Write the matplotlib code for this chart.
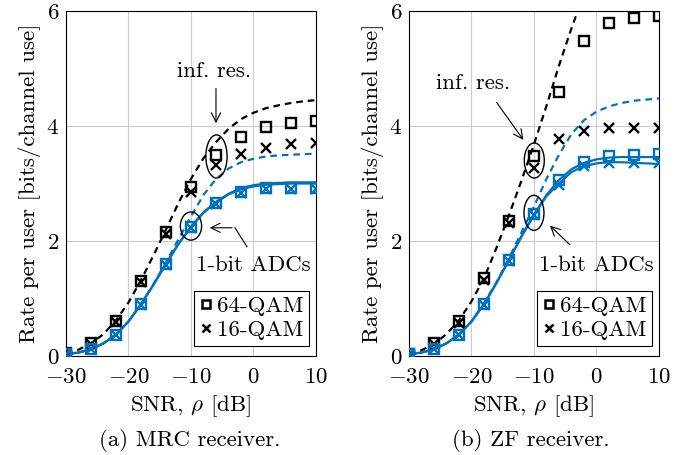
import numpy as np
import matplotlib
matplotlib.use('Agg')
import matplotlib.pyplot as plt
from matplotlib.patches import Ellipse
from matplotlib.lines import Line2D

plt.rcParams['font.family'] = 'serif'
plt.rcParams['font.serif'] = ['cmr10']
plt.rcParams['mathtext.fontset'] = 'cm'
plt.rcParams['axes.formatter.use_mathtext'] = True
plt.rcParams['font.size'] = 16.5

BLUE = '#0072BD'

# SNR grid for curves (2 dB) and markers (4 dB)
snr_line = [-30, -28, -26, -24, -22, -20, -18, -16, -14, -12, -10,
            -8, -6, -4, -2, 0, 2, 4, 6, 8, 10]
snr_mark = [-30, -26, -22, -18, -14, -10, -6, -2, 2, 6, 10]

# (a) MRC
mrc_inf_gauss = [0.05, 0.11, 0.22, 0.38, 0.62, 0.93, 1.32, 1.75, 2.2, 2.66, 3.08,
                 3.44, 3.72, 3.95, 4.12, 4.23, 4.31, 4.36, 4.4, 4.43, 4.45]
mrc_1bit_gauss = [0.03, 0.06, 0.12, 0.22, 0.38, 0.6, 0.9, 1.25, 1.63, 2.03, 2.43,
                  2.8, 3.08, 3.26, 3.37, 3.43, 3.47, 3.49, 3.5, 3.51, 3.52]
mrc_1bit_64 = [0.03, 0.06, 0.12, 0.22, 0.37, 0.6, 0.9, 1.24, 1.6, 1.95, 2.25,
               2.5, 2.68, 2.82, 2.92, 2.97, 3.0, 3.01, 3.02, 3.02, 3.02]
mrc_1bit_16 = [0.03, 0.06, 0.12, 0.22, 0.37, 0.6, 0.9, 1.24, 1.6, 1.95, 2.24,
               2.49, 2.67, 2.81, 2.9, 2.95, 2.98, 2.99, 3.0, 3.0, 3.0]
mrc_inf_64_sim = [0.06, 0.22, 0.61, 1.30, 2.15, 2.94, 3.50, 3.81, 3.98, 4.05, 4.09]
mrc_inf_16_sim = [0.05, 0.21, 0.59, 1.28, 2.13, 2.86, 3.32, 3.52, 3.62, 3.68, 3.71]
mrc_1bit_64_sim = [0.03, 0.12, 0.37, 0.9, 1.6, 2.25, 2.66, 2.86, 2.92, 2.92, 2.92]
mrc_1bit_16_sim = [0.03, 0.12, 0.36, 0.89, 1.59, 2.23, 2.64, 2.84, 2.9, 2.9, 2.9]

# (b) ZF
zf_inf_gauss = [0.05, 0.1, 0.21, 0.38, 0.62, 0.95, 1.35, 1.88, 2.45, 3.05, 3.68,
                4.35, 5.05, 5.7, 6.3, 6.9, 7.5, 8.1, 8.7, 9.3, 9.9]
zf_1bit_gauss = [0.03, 0.06, 0.12, 0.22, 0.38, 0.6, 0.92, 1.28, 1.7, 2.15, 2.6,
                 3.08, 3.5, 3.86, 4.1, 4.25, 4.34, 4.4, 4.44, 4.46, 4.48]
zf_1bit_64 = [0.03, 0.06, 0.12, 0.22, 0.37, 0.6, 0.9, 1.27, 1.67, 2.08, 2.46,
              2.8, 3.06, 3.25, 3.36, 3.42, 3.45, 3.46, 3.46, 3.46, 3.46]
zf_1bit_16 = [0.03, 0.06, 0.12, 0.22, 0.37, 0.6, 0.9, 1.27, 1.67, 2.08, 2.45,
              2.78, 3.0, 3.2, 3.3, 3.35, 3.37, 3.37, 3.36, 3.35, 3.34]
zf_inf_64_sim = [0.04, 0.22, 0.6, 1.35, 2.35, 3.47, 4.6, 5.48, 5.8, 5.87, 5.92]
zf_inf_16_sim = [0.04, 0.21, 0.58, 1.32, 2.32, 3.27, 3.78, 3.92, 3.96, 3.96, 3.96]
zf_1bit_64_sim = [0.03, 0.12, 0.37, 0.9, 1.67, 2.47, 3.06, 3.38, 3.48, 3.5, 3.51]
zf_1bit_16_sim = [0.03, 0.12, 0.36, 0.89, 1.66, 2.45, 2.97, 3.3, 3.35, 3.35, 3.35]

fig = plt.figure(figsize=(6.96, 4.55), dpi=100)
ax1 = fig.add_axes([0.0948, 0.2176, 0.3592, 0.7582])
ax2 = fig.add_axes([0.5876, 0.2176, 0.3592, 0.7582])


def draw(ax, inf_g, bit_g, bit64, bit16, i64, i16, b64, b16):
    ax.plot(snr_line, inf_g, color='k', ls=(0, (3, 2.2)), lw=1.6, zorder=3)
    ax.plot(snr_line, bit_g, color=BLUE, ls=(0, (3, 2.2)), lw=1.6, zorder=3)
    ax.plot(snr_line, bit64, color=BLUE, lw=1.6, zorder=3)
    ax.plot(snr_line, bit16, color=BLUE, lw=1.6, zorder=3)
    mk = dict(ls='none', ms=6.5, mew=1.7, zorder=4)
    ax.plot(snr_mark, i64, marker='s', mfc='none', mec='k', **mk)
    ax.plot(snr_mark, i16, marker='x', color='k', **mk)
    ax.plot(snr_mark, b64, marker='s', mfc='none', mec=BLUE, **mk)
    ax.plot(snr_mark, b16, marker='x', color=BLUE, **mk)

    ax.set_xlim(-30, 10)
    ax.set_ylim(0, 6)
    ax.set_xticks([-30, -20, -10, 0, 10])
    ax.set_yticks([0, 2, 4, 6])
    ax.grid(True, color='#cccccc', lw=0.8)
    ax.set_axisbelow(True)
    ax.tick_params(length=0)
    ax.tick_params(axis='x', pad=8)
    ax.tick_params(axis='y', pad=5)
    for s in ax.spines.values():
        s.set_linewidth(0.8)
    ax.set_xlabel(r'SNR, $\rho$ [dB]', labelpad=5)
    ax.set_ylabel('Rate per user [bits/channel use]', labelpad=4)

    handles = [Line2D([], [], marker='s', mfc='none', mec='k', ls='none', ms=5.5, mew=1.8),
               Line2D([], [], marker='x', color='k', ls='none', ms=5.5, mew=1.8)]
    leg = ax.legend(handles, ['64-QAM', '16-QAM'], loc='lower right',
                    bbox_to_anchor=(0.972, 0.03), fancybox=False, framealpha=1,
                    edgecolor='k', handlelength=0.6, handletextpad=0.15,
                    borderpad=0.25, labelspacing=0.15, borderaxespad=0,
                    fontsize=16.5)
    leg.get_frame().set_linewidth(0.8)


draw(ax1, mrc_inf_gauss, mrc_1bit_gauss, mrc_1bit_64, mrc_1bit_16,
     mrc_inf_64_sim, mrc_inf_16_sim, mrc_1bit_64_sim, mrc_1bit_16_sim)
draw(ax2, zf_inf_gauss, zf_1bit_gauss, zf_1bit_64, zf_1bit_16,
     zf_inf_64_sim, zf_inf_16_sim, zf_1bit_64_sim, zf_1bit_16_sim)

# annotations, MRC
ax1.add_patch(Ellipse((-5.92, 3.47), 3.4, 0.75, fill=False, lw=1, zorder=5))
ax1.add_patch(Ellipse((-10.0, 2.26), 3.4, 0.49, fill=False, lw=1, zorder=5))
ax1.text(-6.3, 4.95, 'inf. res.', ha='center', va='center')
ax1.annotate('', xy=(-6.0, 4.0), xytext=(-6.0, 4.7),
             arrowprops=dict(arrowstyle='->', lw=0.8, color='k'))
ax1.text(-0.1, 1.58, '1-bit ADCs', ha='center', va='center')
ax1.plot([-1.04, -2.96], [1.90, 2.23], color='k', lw=0.8)
ax1.annotate('', xy=(-7.44, 2.23), xytext=(-2.96, 2.23),
             arrowprops=dict(arrowstyle='->', lw=0.8, color='k'))

# annotations, ZF
ax2.add_patch(Ellipse((-9.95, 3.40), 3.2, 0.61, fill=False, lw=1, zorder=5))
ax2.add_patch(Ellipse((-10.0, 2.49), 3.2, 0.61, fill=False, lw=1, zorder=5))
ax2.text(-19.8, 4.75, 'inf. res.', ha='center', va='center')
ax2.annotate('', xy=(-11.44, 3.72), xytext=(-16.24, 4.45),
             arrowprops=dict(arrowstyle='->', lw=0.8, color='k'))
ax2.text(0.0, 1.58, '1-bit ADCs', ha='center', va='center')
ax2.annotate('', xy=(-7.76, 2.30), xytext=(-3.92, 1.90),
             arrowprops=dict(arrowstyle='->', lw=0.8, color='k'))

fig.text(0.273, 1 - 440 / 455, '(a) MRC receiver.', ha='center', va='center')
fig.text(0.763, 1 - 440 / 455, '(b) ZF receiver.', ha='center', va='center')

fig.savefig('out.png', dpi=100)
